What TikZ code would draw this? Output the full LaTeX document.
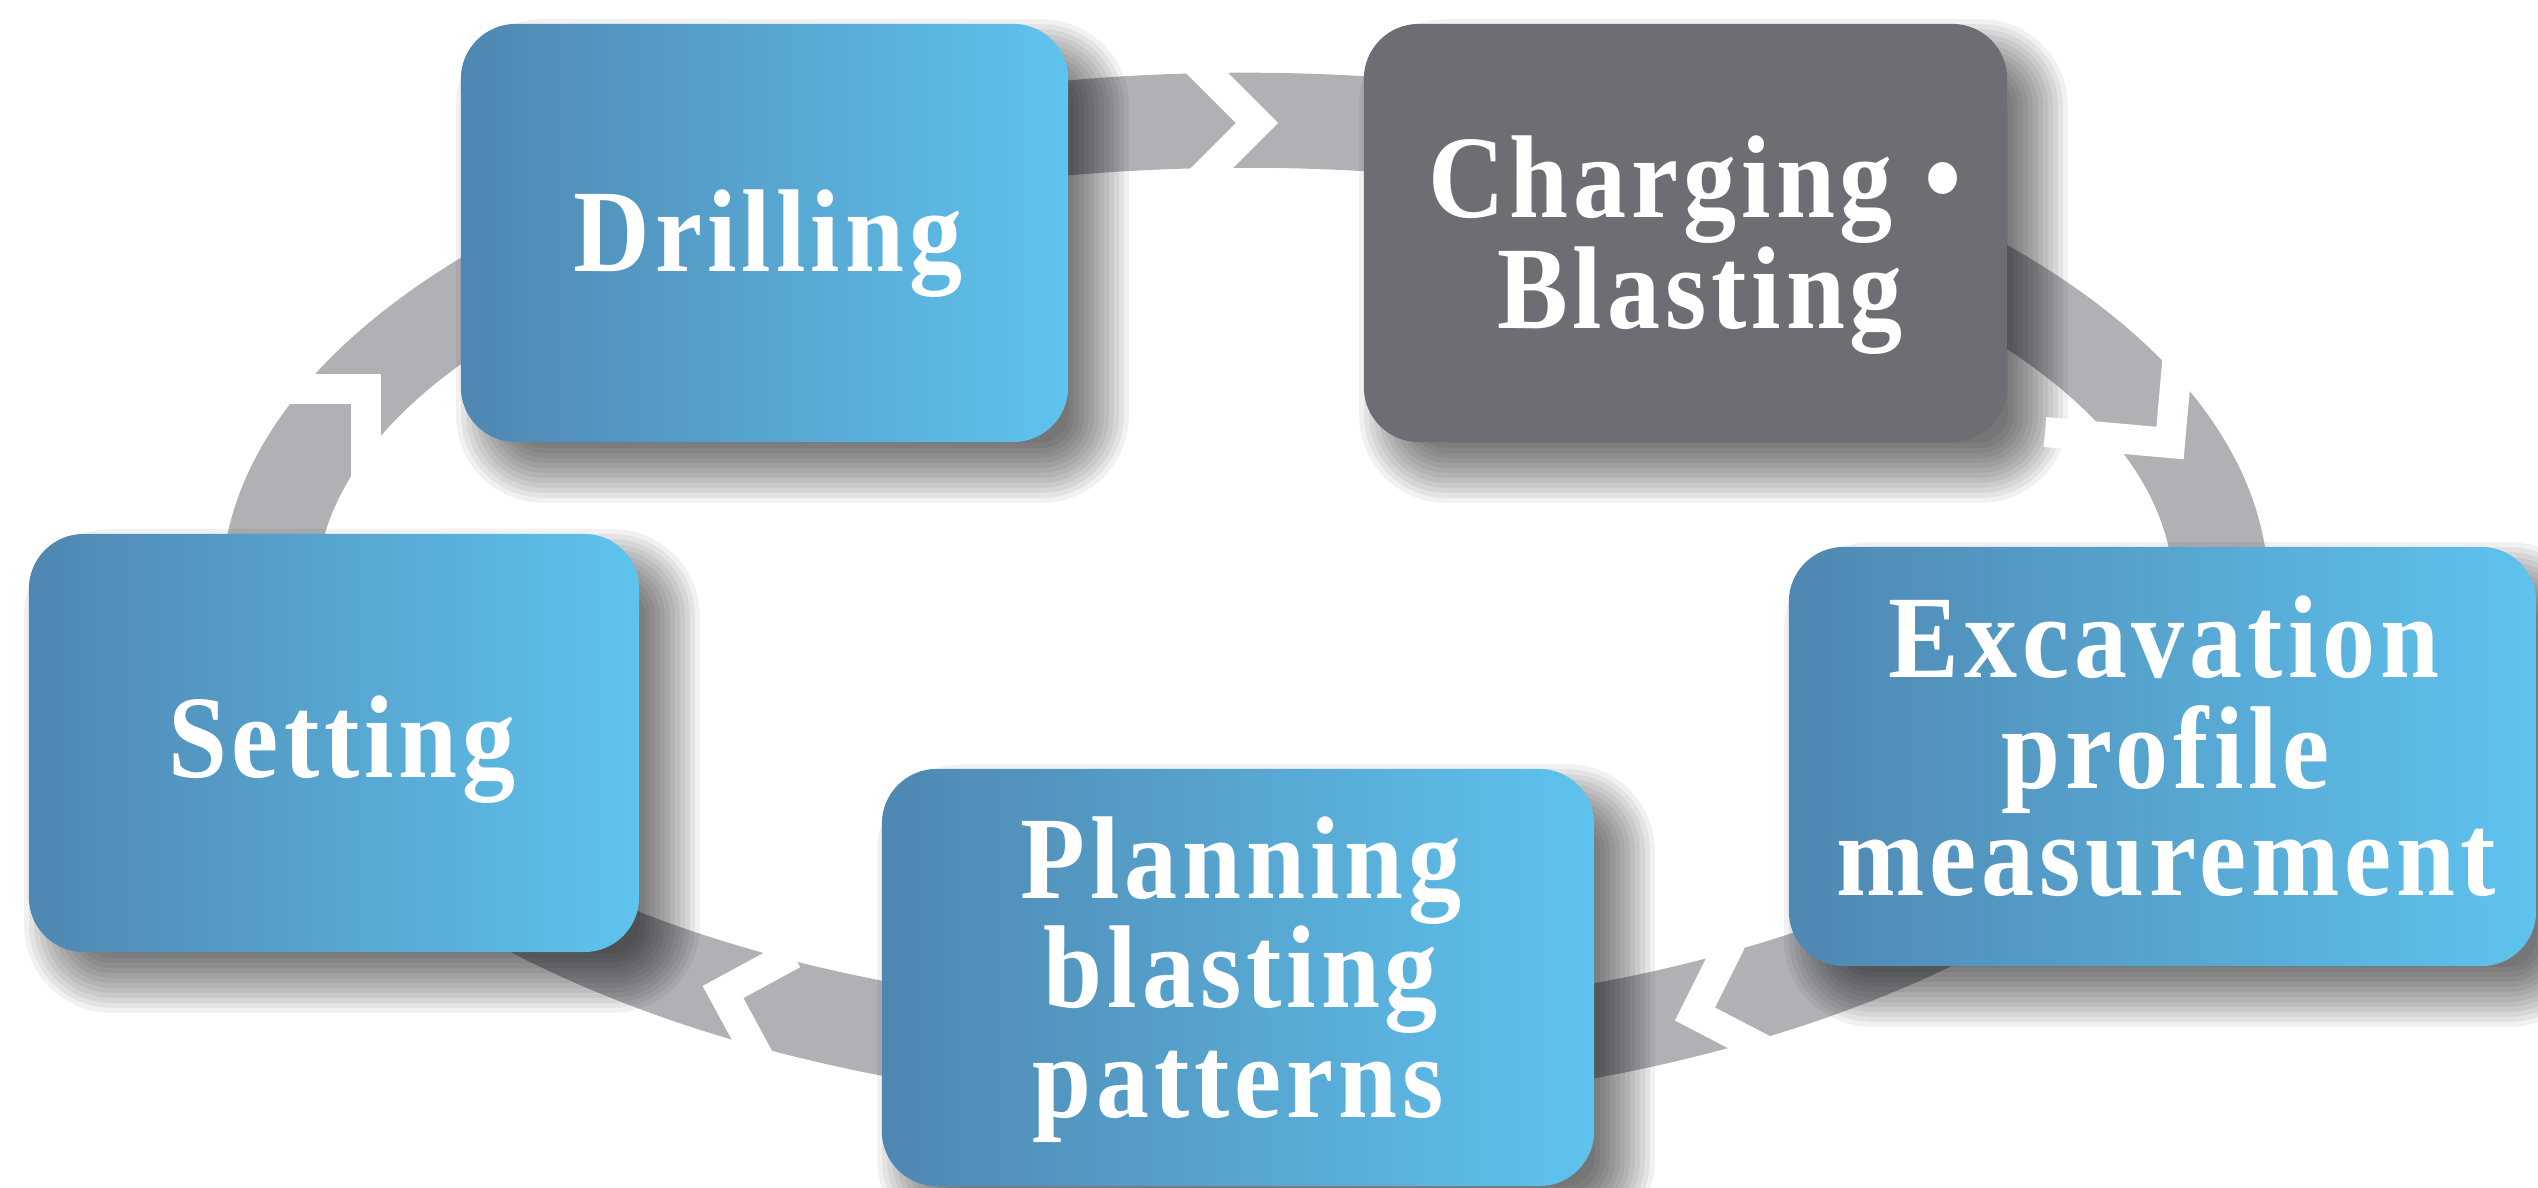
\documentclass[tikz,border=0pt]{standalone}
\usepackage{fontspec}
\setmainfont{Liberation Serif}
\newfontfamily\boxfont{Liberation Serif}[LetterSpace=4.2, FakeStretch=0.9]
\definecolor{ringgray}{HTML}{B0B1B5}
\definecolor{blueL}{HTML}{4F87B1}
\definecolor{blueR}{HTML}{5EC3EE}
\definecolor{boxgray}{HTML}{6D6E73}
\pgfdeclarelayer{ringlayer}
\pgfdeclarelayer{shadowlayer}
\pgfsetlayers{ringlayer,shadowlayer,main}
\newcommand{\softshadow}[1]{%
  \foreach \e in {-28,-23,...,32}{%
    \pgfmathsetmacro{\rr}{max(0.55+\e/100,0.3)}%
    \fill[black, opacity=0.055, rounded corners=\rr cm]
      ([shift={(28-\e,28+\e)}]#1.south west) rectangle ([shift={(28+\e,28-\e)}]#1.north east);
  }%
}
\begin{document}
\begin{tikzpicture}[x=0.01cm,y=-0.01cm,
  card/.style={rounded corners=0.55cm, inner sep=0pt, minimum height=4.18cm},
  bluecard/.style={card, left color=blueL, right color=blueR},
  graycard/.style={card, fill=boxgray},
  boxtext/.style={text=white, font=\boxfont\bfseries\fontsize{33.5pt}{33pt}\selectfont, anchor=base, inner sep=0pt},
  gapcut/.style={draw=white, line width=0.30cm, line join=miter, miter limit=10}]
\useasboundingbox (0,0) rectangle (2538,1188);
\begin{pgfonlayer}{ringlayer}
\fill[white] (0,0) rectangle (2538,1188);
\fill[ringgray, even odd rule] (1245,591) ellipse [x radius=10.23cm, y radius=5.18cm]
  (1245,591) ellipse [x radius=9.28cm, y radius=4.23cm];
\end{pgfonlayer}
% boxes
\node[bluecard, minimum width=6.07cm] (drill) at (764.5,233) {};
\node[graycard, minimum width=6.43cm] (charge) at (1685.5,233) {};
\node[bluecard, minimum width=6.10cm] (set) at (334,743) {};
\node[bluecard, minimum width=7.12cm, minimum height=4.17cm] (plan) at (1238,977.5) {};
\node[bluecard, minimum width=7.47cm, minimum height=4.19cm] (exc) at (2162.5,756.5) {};
\begin{pgfonlayer}{shadowlayer}
\softshadow{drill}
\softshadow{charge}
\softshadow{set}
\softshadow{plan}
\softshadow{exc}
% gaps in the ring
\draw[gapcut] (1192,58) -- (1257,123) -- (1192,188);
\draw[gapcut] (2180,330) -- (2170,443) -- (2045,432);
\draw[gapcut] (1731,942) -- (1695,1014) -- (1766,1051);
\draw[gapcut] (793,954) -- (723,992) -- (761,1062);
\draw[gapcut] (265,389) -- (366,389) -- (366,495);
\end{pgfonlayer}
% texts
\node[boxtext] (drillT) at (768,272) {Drilling};
\node[boxtext] (chargeT1) at (1695,218) {Charging •};
\node[boxtext] (chargeT2) at (1700,329) {Blasting};
\node[boxtext] (setT) at (342,777) {Setting};
\node[boxtext] (excT1) at (2164,677) {Excavation};
\node[boxtext] (excT2) at (2166,788) {profile};
\node[boxtext] (excT3) at (2166,895) {measurement};
\node[boxtext] (planT1) at (1241,898) {Planning};
\node[boxtext] (planT2) at (1241,1007) {blasting};
\node[boxtext] (planT3) at (1238,1117) {patterns};
\end{tikzpicture}
\end{document}
